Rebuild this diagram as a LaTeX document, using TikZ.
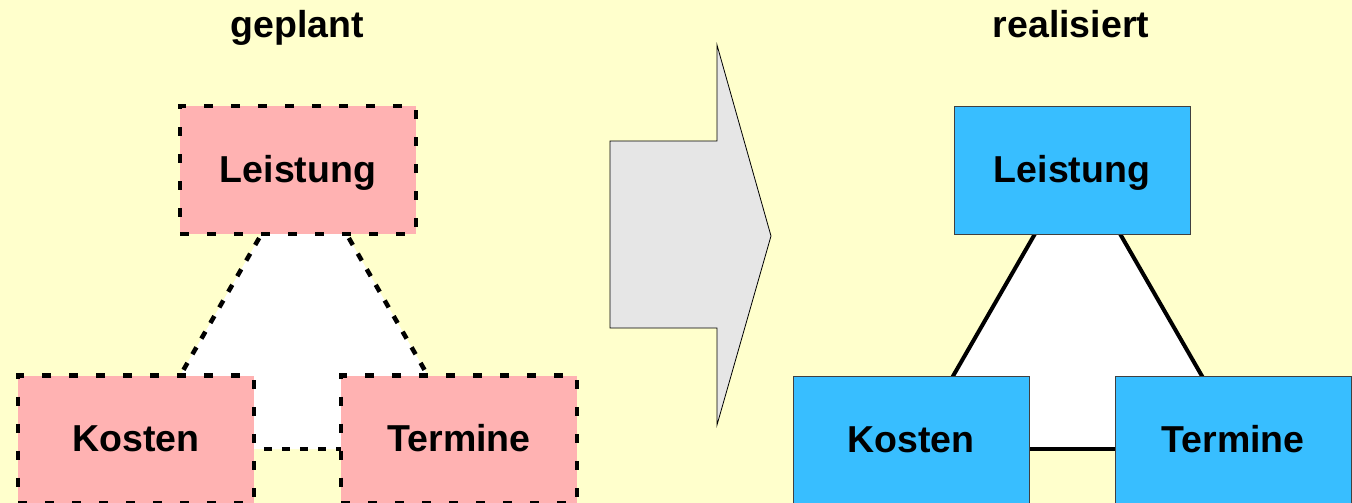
\documentclass[tikz,border=0pt]{standalone}
\usepackage{fontspec}
\setmainfont{Liberation Sans}
\usetikzlibrary{backgrounds}
\definecolor{bgyellow}{RGB}{255,255,204}
\definecolor{planpink}{RGB}{255,178,178}
\definecolor{realblue}{RGB}{56,190,255}
\definecolor{arrowgray}{RGB}{230,230,230}
\begin{document}
\begin{tikzpicture}[x=1pt,y=-1pt,
  lbl/.style={font=\fontsize{37.5}{44}\selectfont\bfseries},
  box/.style={rectangle, minimum width=236pt, minimum height=128pt, inner sep=0pt, text height=24pt, text depth=0pt, lbl},
  planbox/.style={box, fill=planpink, draw=black, line width=4.5pt, dash pattern=on 9pt off 18pt},
  realbox/.style={box, fill=realblue, draw=black!75, line width=1pt},
  plancon/.style={draw=black, line width=4.5pt, dash pattern=on 8pt off 10pt},
  realcon/.style={draw=black, line width=4pt},
  titletext/.style={lbl, anchor=base, inner sep=0pt},
  bigarrow/.style={fill=arrowgray, draw=black, line width=0.8pt, line join=miter},
]
\useasboundingbox (0,0) rectangle (1352,503);

% titles
\node[titletext] (t1) at (297,38) {geplant};
\node[titletext] (t2) at (1071,38) {realisiert};

% planned boxes
\node[planbox] (pL) at (298,170) {Leistung};
\node[planbox] (pK) at (136,439.5) {Kosten};
\node[planbox] (pT) at (459,439.5) {Termine};

% realised boxes
\node[realbox] (rL) at (1072,170) {Leistung};
\node[realbox] (rK) at (911,440) {Kosten};
\node[realbox] (rT) at (1233,440) {Termine};

\begin{scope}[on background layer]
  \fill[bgyellow] (0,0) rectangle (1352,503);
  % planned triangle
  \coordinate (pA) at (304,160);
  \coordinate (pB) at (138,449);
  \coordinate (pC) at (470,449);
  \fill[white] (pA) -- (pB) -- (pC) -- cycle;
  \draw[plancon] (pA) -- (pB);
  \draw[plancon] (pA) -- (pC);
  \draw[plancon] (pB) -- (pC);
  % realised triangle
  \coordinate (rA) at (1077.5,160);
  \coordinate (rB) at (911,449);
  \coordinate (rC) at (1244,449);
  \fill[white] (rA) -- (rB) -- (rC) -- cycle;
  \draw[realcon] (rA) -- (rB);
  \draw[realcon] (rA) -- (rC);
  \draw[realcon] (rB) -- (rC);
\end{scope}

% big arrow
\draw[bigarrow] (610,141) -- (717,141) -- (717,45) -- (771,236) -- (717,425) -- (717,328) -- (610,328) -- cycle;
\end{tikzpicture}
\end{document}
